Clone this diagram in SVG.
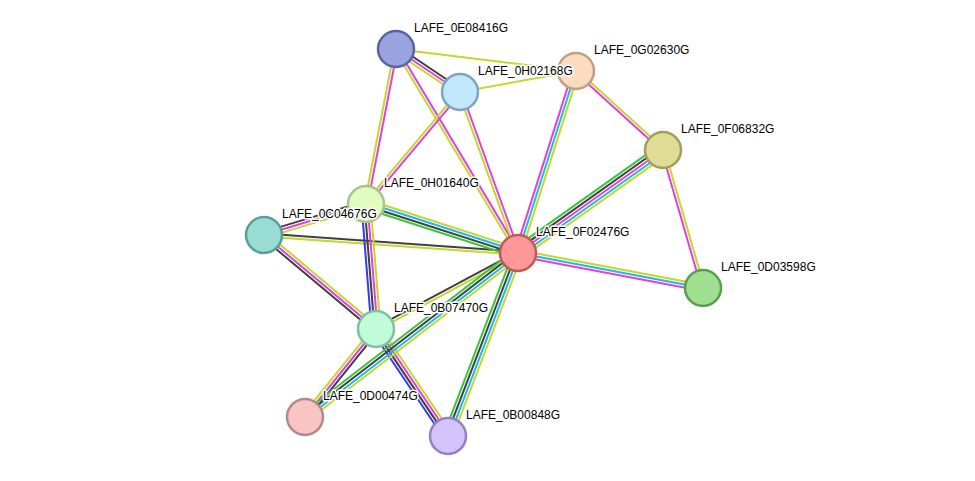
<svg xmlns="http://www.w3.org/2000/svg" width="975" height="481" viewBox="0 0 975 481">
<style>
line{stroke-width:2;fill:none}
.y{stroke:#c3d82a}.m{stroke:#e040e0}.c{stroke:#20b8e8}.k{stroke:#404040}.g{stroke:#3cc43c}.b{stroke:#3838f0}
circle{stroke-width:2.5}
text{font-family:"Liberation Sans",Arial,sans-serif;font-size:12px;fill:#000;stroke:#fff;stroke-width:3px;stroke-linejoin:round;paint-order:stroke}
</style>
<rect width="975" height="481" fill="#fff"/>
<g id="edges">
<g transform="matrix(0.830,0.558,-0.558,0.830,396,49)"><line class="k" x1="0" y1="-3" x2="77.1" y2="-3"/><line class="m" x1="0" y1="0" x2="77.1" y2="0"/><line class="y" x1="0" y1="3" x2="77.1" y2="3"/></g>
<g transform="matrix(0.9926,0.1213,-0.1213,0.9926,396,49)"><line class="y" x1="0" y1="0" x2="181.3" y2="0"/></g>
<g transform="matrix(-0.190,0.9818,-0.9818,-0.190,396,49)"><line class="y" x1="0" y1="1.5" x2="157.9" y2="1.5"/><line class="m" x1="0" y1="-1.5" x2="157.9" y2="-1.5"/></g>
<g transform="matrix(0.5133,0.8582,-0.8582,0.5133,396,49)"><line class="m" x1="0" y1="-1.5" x2="237.7" y2="-1.5"/><line class="y" x1="0" y1="1.5" x2="237.7" y2="1.5"/></g>
<g transform="matrix(0.9838,-0.1781,0.1781,0.9838,460,92)"><line class="y" x1="0" y1="0" x2="117.9" y2="0"/></g>
<g transform="matrix(-0.643,0.766,-0.766,-0.643,460,92)"><line class="m" x1="0" y1="-1.5" x2="146.2" y2="-1.5"/><line class="y" x1="0" y1="1.5" x2="146.2" y2="1.5"/></g>
<g transform="matrix(0.3389,0.9408,-0.9408,0.3389,460,92)"><line class="m" x1="0" y1="-1.5" x2="171.1" y2="-1.5"/><line class="y" x1="0" y1="1.5" x2="171.1" y2="1.5"/></g>
<g transform="matrix(-0.3036,0.9528,-0.9528,-0.3036,576,71)"><line class="m" x1="0" y1="3" x2="191" y2="3"/><line class="c" x1="0" y1="0" x2="191" y2="0"/><line class="y" x1="0" y1="-3" x2="191" y2="-3"/></g>
<g transform="matrix(0.7403,0.6722,-0.6722,0.7403,576,71)"><line class="m" x1="0" y1="1.5" x2="117.5" y2="1.5"/><line class="y" x1="0" y1="-1.5" x2="117.5" y2="-1.5"/></g>
<g transform="matrix(-0.8153,0.5791,-0.5791,-0.8153,663,150)"><line class="g" x1="0" y1="6" x2="177.9" y2="6"/><line class="k" x1="0" y1="3" x2="177.9" y2="3"/><line class="m" x1="0" y1="0" x2="177.9" y2="0"/><line class="c" x1="0" y1="-3" x2="177.9" y2="-3"/><line class="y" x1="0" y1="-6" x2="177.9" y2="-6"/></g>
<g transform="matrix(0.2784,0.9605,-0.9605,0.2784,663,150)"><line class="m" x1="0" y1="1.5" x2="143.7" y2="1.5"/><line class="y" x1="0" y1="-1.5" x2="143.7" y2="-1.5"/></g>
<g transform="matrix(0.9826,0.1859,-0.1859,0.9826,518,253)"><line class="y" x1="0" y1="-3" x2="188.3" y2="-3"/><line class="c" x1="0" y1="0" x2="188.3" y2="0"/><line class="m" x1="0" y1="3" x2="188.3" y2="3"/></g>
<g transform="matrix(0.9568,-0.2908,0.2908,0.9568,264,235)"><line class="k" x1="0" y1="-3" x2="106.6" y2="-3"/><line class="m" x1="0" y1="0" x2="106.6" y2="0"/><line class="y" x1="0" y1="3" x2="106.6" y2="3"/></g>
<g transform="matrix(0.9975,0.0707,-0.0707,0.9975,264,235)"><line class="k" x1="0" y1="-1.5" x2="254.6" y2="-1.5"/><line class="y" x1="0" y1="1.5" x2="254.6" y2="1.5"/></g>
<g transform="matrix(0.9518,0.3068,-0.3068,0.9518,366,204)"><line class="y" x1="0" y1="-4.5" x2="159.7" y2="-4.5"/><line class="c" x1="0" y1="-1.5" x2="159.7" y2="-1.5"/><line class="k" x1="0" y1="1.5" x2="159.7" y2="1.5"/><line class="g" x1="0" y1="4.5" x2="159.7" y2="4.5"/></g>
<g transform="matrix(0.0797,0.9968,-0.9968,0.0797,366,204)"><line class="b" x1="0" y1="4.5" x2="125.4" y2="4.5"/><line class="k" x1="0" y1="1.5" x2="125.4" y2="1.5"/><line class="m" x1="0" y1="-1.5" x2="125.4" y2="-1.5"/><line class="y" x1="0" y1="-4.5" x2="125.4" y2="-4.5"/></g>
<g transform="matrix(0.766,0.6429,-0.6429,0.766,264,235)"><line class="k" x1="0" y1="3" x2="146.2" y2="3"/><line class="m" x1="0" y1="0" x2="146.2" y2="0"/><line class="y" x1="0" y1="-3" x2="146.2" y2="-3"/></g>
<g transform="matrix(0.8817,-0.4719,0.4719,0.8817,376,329)"><line class="k" x1="0" y1="-1.5" x2="161.1" y2="-1.5"/><line class="y" x1="0" y1="1.5" x2="161.1" y2="1.5"/></g>
<g transform="matrix(-0.6279,0.7783,-0.7783,-0.6279,376,329)"><line class="y" x1="0" y1="3" x2="113.1" y2="3"/><line class="m" x1="0" y1="0" x2="113.1" y2="0"/><line class="k" x1="0" y1="-3" x2="113.1" y2="-3"/></g>
<g transform="matrix(0.5583,0.8297,-0.8297,0.5583,376,329)"><line class="b" x1="0" y1="4.5" x2="129" y2="4.5"/><line class="k" x1="0" y1="1.5" x2="129" y2="1.5"/><line class="m" x1="0" y1="-1.5" x2="129" y2="-1.5"/><line class="y" x1="0" y1="-4.5" x2="129" y2="-4.5"/></g>
<g transform="matrix(0.7923,-0.6101,0.6101,0.7923,305,417)"><line class="g" x1="0" y1="-4.5" x2="268.8" y2="-4.5"/><line class="k" x1="0" y1="-1.5" x2="268.8" y2="-1.5"/><line class="c" x1="0" y1="1.5" x2="268.8" y2="1.5"/><line class="y" x1="0" y1="4.5" x2="268.8" y2="4.5"/></g>
<g transform="matrix(0.3573,-0.934,0.934,0.3573,448,436)"><line class="g" x1="0" y1="-4.5" x2="195.9" y2="-4.5"/><line class="k" x1="0" y1="-1.5" x2="195.9" y2="-1.5"/><line class="c" x1="0" y1="1.5" x2="195.9" y2="1.5"/><line class="y" x1="0" y1="4.5" x2="195.9" y2="4.5"/></g>
</g>
<g id="LAFE_0E08416G"><circle cx="396" cy="49" r="18" fill="#9aa2e0" stroke="#5a64a2"/><text x="414" y="32">LAFE_0E08416G</text></g>
<g id="LAFE_0G02630G"><circle cx="576" cy="71" r="18" fill="#fcdcc0" stroke="#c0a080"/><text x="594" y="54">LAFE_0G02630G</text></g>
<g id="LAFE_0H02168G"><circle cx="460" cy="92" r="18" fill="#c2e8fc" stroke="#7ca6c0"/><text x="478" y="75">LAFE_0H02168G</text></g>
<g id="LAFE_0F06832G"><circle cx="663" cy="150" r="18" fill="#dedc96" stroke="#a0a058"/><text x="681" y="133">LAFE_0F06832G</text></g>
<g id="LAFE_0H01640G"><circle cx="366" cy="204" r="18" fill="#e0fcc0" stroke="#a8c488"/><text x="384" y="187">LAFE_0H01640G</text></g>
<g id="LAFE_0C04676G"><circle cx="264" cy="235" r="18" fill="#98dcd4" stroke="#5a9e98"/><text x="282" y="218">LAFE_0C04676G</text></g>
<g id="LAFE_0F02476G"><circle cx="518" cy="253" r="18" fill="#ff9898" stroke="#c05858"/><text x="536" y="236">LAFE_0F02476G</text></g>
<g id="LAFE_0D03598G"><circle cx="703" cy="288" r="18" fill="#9edf90" stroke="#5a9e50"/><text x="721" y="271">LAFE_0D03598G</text></g>
<g id="LAFE_0B07470G"><circle cx="376" cy="329" r="18" fill="#c0fcd8" stroke="#84c0a0"/><text x="394" y="312">LAFE_0B07470G</text></g>
<g id="LAFE_0D00474G"><circle cx="305" cy="417" r="18" fill="#f8c4c4" stroke="#b88888"/><text x="323" y="400">LAFE_0D00474G</text></g>
<g id="LAFE_0B00848G"><circle cx="448" cy="436" r="18" fill="#d4c4fc" stroke="#9480c8"/><text x="466" y="419">LAFE_0B00848G</text></g>
</svg>
